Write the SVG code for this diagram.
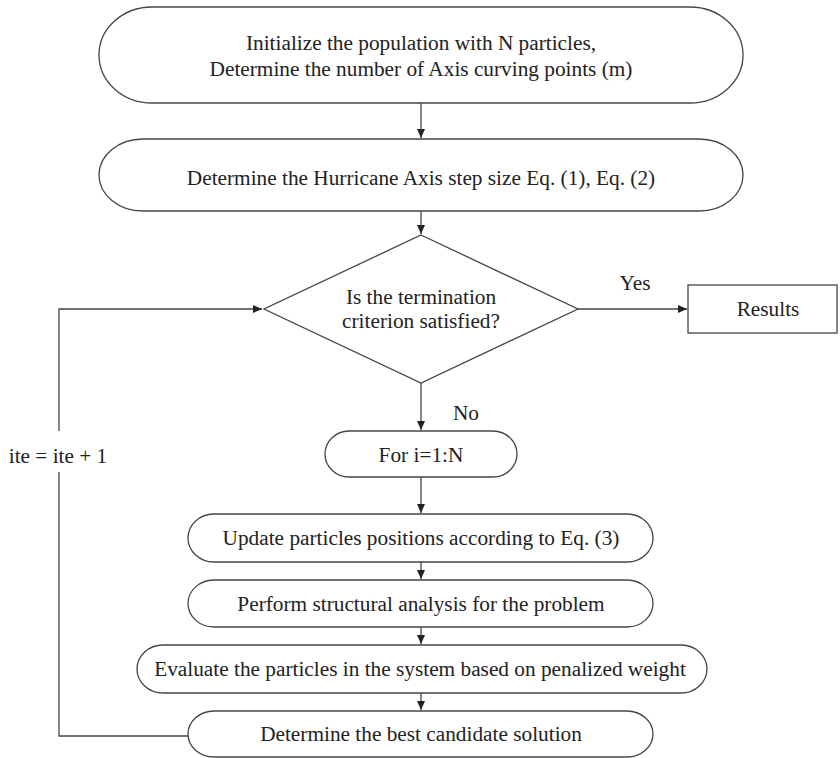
<svg xmlns="http://www.w3.org/2000/svg" width="840" height="758" viewBox="0 0 840 758">
<style>
.n{fill:#fff;stroke:#444;stroke-width:1.3}
.t{font-family:"Liberation Serif","Times New Roman",serif;font-size:21.3px;fill:#222;text-anchor:middle}
.c{fill:none;stroke:#444;stroke-width:1.3}
</style>
<defs>
<marker id="ah" markerWidth="10" markerHeight="10" refX="9" refY="4" orient="auto" markerUnits="userSpaceOnUse">
<path d="M0,0 L9,4 L0,8 Z" fill="#222"/>
</marker>
</defs>
<rect width="840" height="758" fill="#fff"/>
<g id="connectors">
<line class="c" x1="421" y1="103" x2="421" y2="138" marker-end="url(#ah)"/>
<line class="c" x1="421" y1="211" x2="421" y2="234" marker-end="url(#ah)"/>
<line class="c" x1="578" y1="309" x2="687" y2="309" marker-end="url(#ah)"/>
<line class="c" x1="421" y1="383" x2="421" y2="430" marker-end="url(#ah)"/>
<line class="c" x1="421" y1="477" x2="421" y2="513" marker-end="url(#ah)"/>
<line class="c" x1="421" y1="562" x2="421" y2="579" marker-end="url(#ah)"/>
<line class="c" x1="421" y1="627" x2="421" y2="644" marker-end="url(#ah)"/>
<line class="c" x1="421" y1="693" x2="421" y2="710" marker-end="url(#ah)"/>
<path class="c" d="M188,736 H59 V472"/>
<path class="c" d="M59,431 V309 H262" marker-end="url(#ah)"/>
<text class="t" x="635" y="290">Yes</text>
<text class="t" x="466" y="420">No</text>
<text class="t" x="58" y="463">ite = ite + 1</text>
</g>
<g id="init">
<rect class="n" x="99" y="7" width="644" height="96" rx="53" ry="48"/>
<text class="t" x="421" y="50">Initialize the population with N particles,</text>
<text class="t" x="421" y="76">Determine the number of Axis curving points (m)</text>
</g>
<g id="stepsize">
<rect class="n" x="99" y="139" width="644" height="72" rx="44" ry="36"/>
<text class="t" x="421" y="185">Determine the Hurricane Axis step size Eq. (1), Eq. (2)</text>
</g>
<g id="decision">
<polygon class="n" points="421,235 578,309 421,383 264,309"/>
<text class="t" x="421" y="304">Is the termination</text>
<text class="t" x="421" y="328">criterion satisfied?</text>
</g>
<g id="results">
<rect class="n" x="688" y="285" width="149" height="48"/>
<text class="t" x="768" y="316">Results</text>
</g>
<g id="loop">
<rect class="n" x="325" y="431" width="192" height="46" rx="24" ry="23"/>
<text class="t" x="421" y="462">For i=1:N</text>
</g>
<g id="update">
<rect class="n" x="188" y="514" width="465" height="48" rx="26" ry="24"/>
<text class="t" x="421" y="545">Update particles positions according to Eq. (3)</text>
</g>
<g id="analysis">
<rect class="n" x="188" y="580" width="465" height="47" rx="26" ry="23.5"/>
<text class="t" x="421" y="611">Perform structural analysis for the problem</text>
</g>
<g id="evaluate">
<rect class="n" x="137" y="645" width="570" height="48" rx="26" ry="24"/>
<text class="t" x="420" y="676">Evaluate the particles in the system based on penalized weight</text>
</g>
<g id="best">
<rect class="n" x="188" y="711" width="465" height="46" rx="26" ry="23"/>
<text class="t" x="421" y="741">Determine the best candidate solution</text>
</g>
</svg>
